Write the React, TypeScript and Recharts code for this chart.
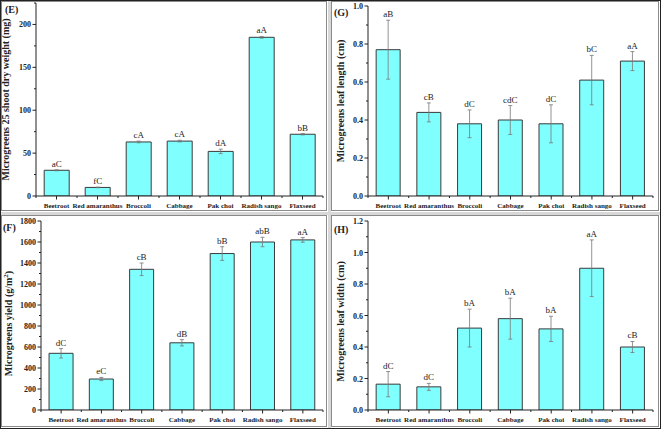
import React from 'react';
import { BarChart, Bar, XAxis, YAxis, ErrorBar, LabelList, Label } from 'recharts';

// categories shared by all four panels
const categories = ['Beetroot', 'Red amaranthus', 'Broccoli', 'Cabbage', 'Pak choi', 'Radish sango', 'Flaxseed'];

// (E) shoot dry weight
const dryWeight = [30, 10, 63, 64, 52, 185, 72];
const dryWeightErr = [0.6, 0.4, 1, 1, 2.6, 1, 0.8];
const dryWeightLetters = ['aC', 'fC', 'cA', 'cA', 'dA', 'aA', 'bB'];
const dryWeightTicks = [0, 50, 100, 150, 200];
const dryWeightMinor = [25, 75, 125, 175, 225];

// (G) leaf length
const leafLength = [0.77, 0.44, 0.38, 0.4, 0.38, 0.61, 0.71];
const leafLengthErr = [0.155, 0.05, 0.073, 0.076, 0.1, 0.13, 0.05];
const leafLengthLetters = ['aB', 'cB', 'dC', 'cdC', 'dC', 'bC', 'aA'];
const leafLengthTicks = [0, 0.2, 0.4, 0.6, 0.8, 1.0];
const leafLengthMinor = [0.1, 0.3, 0.5, 0.7, 0.9];

// (F) yield
const yieldVals = [540, 295, 1340, 640, 1490, 1600, 1620];
const yieldErr = [45, 15, 60, 30, 65, 45, 22];
const yieldLetters = ['dC', 'eC', 'cB', 'dB', 'bB', 'abB', 'aA'];
const yieldTicks = [0, 200, 400, 600, 800, 1000, 1200, 1400, 1600, 1800];
const yieldMinor = [100, 300, 500, 700, 900, 1100, 1300, 1500, 1700];

// (H) leaf width
const leafWidth = [0.164, 0.147, 0.52, 0.58, 0.515, 0.9, 0.4];
const leafWidthErr = [0.08, 0.022, 0.12, 0.13, 0.08, 0.18, 0.035];
const leafWidthLetters = ['dC', 'dC', 'bA', 'bA', 'bA', 'aA', 'cB'];
const leafWidthTicks = [0, 0.2, 0.4, 0.6, 0.8, 1.0, 1.2];
const leafWidthMinor = [0.1, 0.3, 0.5, 0.7, 0.9, 1.1];

const FONT = '"Liberation Serif", "Times New Roman", serif';

const makeYTick = (majors: number[], decimals: number) => (props: any) => {
  const { x, y, payload } = props;
  const isMajor = majors.some((m) => Math.abs(m - payload.value) < 1e-9);
  return (
    <g>
      <line x1={x - (isMajor ? 3.5 : 2)} y1={y} x2={x} y2={y} stroke="#222" strokeWidth={1} />
      {isMajor && (
        <text x={x - 5} y={y} dy={3} textAnchor="end" fontFamily={FONT} fontWeight="bold" fontSize={8} fill="#222">
          {Number(payload.value).toFixed(decimals)}
        </text>
      )}
    </g>
  );
};

const XTick = (props: any) => {
  const { x, y, payload, index } = props;
  const off = payload.offset ?? 20.5;
  return (
    <g>
      <line x1={x} y1={y} x2={x} y2={y + 3.5} stroke="#222" strokeWidth={1} />
      <line x1={x + off} y1={y} x2={x + off} y2={y + 2} stroke="#222" strokeWidth={1} />
      {index === 0 && <line x1={x - off} y1={y} x2={x - off} y2={y + 2} stroke="#222" strokeWidth={1} />}
      <text x={x} y={y + 12} textAnchor="middle" fontFamily={FONT} fontWeight="bold" fontSize={7} fill="#222">
        {payload.value}
      </text>
    </g>
  );
};

type PanelProps = {
  tag: string;
  title: React.ReactNode;
  values: number[];
  errors: number[];
  letters: string[];
  majors: number[];
  minors: number[];
  domain: [number, number];
  decimals: number;
  left: number;
  top: number;
  width: number;
  height: number;
  yWidth: number;
  xHeight: number;
  marginTop: number;
  marginRight: number;
  titleX: number;
  titleDy: number;
  tagX: number;
  tagY: number;
};

const Panel = (p: PanelProps) => {
  const data = categories.map((name, i) => ({ name, value: p.values[i], err: p.errors[i], letter: p.letters[i] }));
  const ticks = [...p.majors, ...p.minors.filter((m) => m <= p.domain[1])].sort((a, b) => a - b);

  const renderLetter = (lp: any) => {
    const { x, y, width, height, index, value } = lp;
    const h = Math.abs(height);
    const errPx = p.values[index] ? (h * p.errors[index]) / p.values[index] : 0;
    return (
      <text x={x + width / 2} y={y - errPx - 3} textAnchor="middle" fontFamily={FONT} fontSize={9} fill="#222">
        {value}
      </text>
    );
  };

  return (
    <div style={{ position: 'absolute', left: p.left, top: p.top }}>
      <BarChart
        width={p.width}
        height={p.height}
        data={data}
        margin={{ top: p.marginTop, right: p.marginRight, bottom: 0, left: 0 }}
        barCategoryGap="20%"
      >
        <XAxis
          dataKey="name"
          interval={0}
          height={p.xHeight}
          tickSize={0}
          tickMargin={0}
          tickLine={false}
          tick={<XTick />}
          axisLine={{ stroke: '#222', strokeWidth: 1 }}
        />
        <YAxis
          width={p.yWidth}
          domain={p.domain}
          ticks={ticks}
          interval={0}
          tickSize={0}
          tickMargin={0}
          tickLine={false}
          tick={makeYTick(p.majors, p.decimals)}
          axisLine={{ stroke: '#222', strokeWidth: 1 }}
          allowDataOverflow
        >
          <Label
            content={(lp: any) => {
              const vb = lp.viewBox || {};
              const cy = vb.y + vb.height / 2 + p.titleDy;
              return (
                <g>
                  <text
                    transform={`translate(${p.titleX},${cy}) rotate(-90)`}
                    textAnchor="middle"
                    fontFamily={FONT}
                    fontWeight="bold"
                    fontSize={10}
                    fill="#222"
                  >
                    {p.title}
                  </text>
                  <text x={p.tagX} y={p.tagY} fontFamily={FONT} fontWeight="bold" fontSize={10} fill="#222">
                    {p.tag}
                  </text>
                </g>
              );
            }}
          />
        </YAxis>
        <Bar dataKey="value" fill="#80ffff" stroke="#3a3a3a" strokeWidth={1} isAnimationActive={false}>
          <ErrorBar dataKey="err" direction="y" width={2} stroke="#777" strokeWidth={0.8} isAnimationActive={false} />
          <LabelList dataKey="letter" content={renderLetter} />
        </Bar>
      </BarChart>
    </div>
  );
};

export default function App() {
  return (
    <div style={{ position: 'relative', width: 661, height: 429, background: '#fff', overflow: 'hidden' }}>
      <style>{'body{margin:0}'}</style>
      {/* outer frame and panel frames */}
      <div style={{ position: 'absolute', left: 0, top: 0, width: 659, height: 427, border: '1px solid #222' }} />
      <div style={{ position: 'absolute', left: 328, top: 1, width: 3, height: 427, background: '#d8d8d8' }} />
      <div style={{ position: 'absolute', left: 1, top: 212, width: 659, height: 3, background: '#d8d8d8' }} />
      {[
        [1, 1, 326, 210],
        [331, 1, 328, 210],
        [1, 215, 326, 212],
        [331, 215, 328, 212],
      ].map(([l, t, w, h], i) => (
        <div key={i} style={{ position: 'absolute', left: l, top: t, width: w, height: h, border: '1px solid #8a8a8a', boxSizing: 'border-box' }} />
      ))}

      <Panel
        tag="(E)"
        title="Microgreens 25 shoot dry weight (mg)"
        values={dryWeight}
        errors={dryWeightErr}
        letters={dryWeightLetters}
        majors={dryWeightTicks}
        minors={dryWeightMinor}
        domain={[0, 225]}
        decimals={0}
        left={0}
        top={0}
        width={330}
        height={214}
        yWidth={36}
        xHeight={18}
        marginTop={3}
        marginRight={7}
        titleX={9}
        titleDy={0}
        tagX={5}
        tagY={13}
      />
      <Panel
        tag="(G)"
        title="Microgreens leaf length (cm)"
        values={leafLength}
        errors={leafLengthErr}
        letters={leafLengthLetters}
        majors={leafLengthTicks}
        minors={leafLengthMinor}
        domain={[0, 1]}
        decimals={1}
        left={330}
        top={0}
        width={331}
        height={214}
        yWidth={38}
        xHeight={18}
        marginTop={6}
        marginRight={8}
        titleX={14}
        titleDy={0}
        tagX={4}
        tagY={16}
      />
      <Panel
        tag="(F)"
        title={
          <>
            Microgreens yield (g/m<tspan fontSize={7} dy={-4}>2</tspan>
            <tspan dy={4}>)</tspan>
          </>
        }
        values={yieldVals}
        errors={yieldErr}
        letters={yieldLetters}
        majors={yieldTicks}
        minors={yieldMinor}
        domain={[0, 1800]}
        decimals={0}
        left={0}
        top={214}
        width={330}
        height={215}
        yWidth={41}
        xHeight={19}
        marginTop={7}
        marginRight={7}
        titleX={12}
        titleDy={8}
        tagX={3}
        tagY={17}
      />
      <Panel
        tag="(H)"
        title="Microgreens leaf width (cm)"
        values={leafWidth}
        errors={leafWidthErr}
        letters={leafWidthLetters}
        majors={leafWidthTicks}
        minors={leafWidthMinor}
        domain={[0, 1.2]}
        decimals={1}
        left={330}
        top={214}
        width={331}
        height={215}
        yWidth={38}
        xHeight={19}
        marginTop={7}
        marginRight={8}
        titleX={14}
        titleDy={6}
        tagX={4}
        tagY={19}
      />
    </div>
  );
}
